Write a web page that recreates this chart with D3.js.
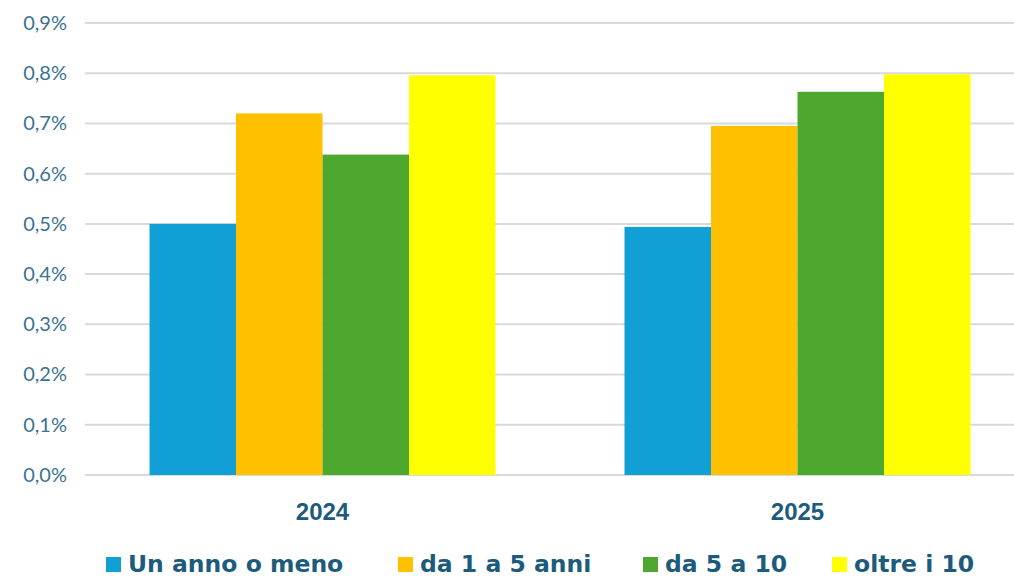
<!DOCTYPE html>
<html><head><meta charset="utf-8">
<script src="https://cdn.jsdelivr.net/npm/d3@7"></script>
<style>body{margin:0;background:#fff}svg{display:block}</style>
</head><body>
<svg id="c" width="1014" height="577"></svg>
<script>
const categories = ["2024", "2025"];
const series = ["Un anno o meno", "da 1 a 5 anni", "da 5 a 10", "oltre i 10"];
const colors = ["#119fd6", "#ffc000", "#4ea72e", "#ffff00"];
const values2024 = [0.500, 0.720, 0.638, 0.796];
const values2025 = [0.494, 0.695, 0.763, 0.798];
const yTicks = [0, 0.1, 0.2, 0.3, 0.4, 0.5, 0.6, 0.7, 0.8, 0.9];

const svg = d3.select("#c");
const plotL = 85, plotR = 1035, plotT = 23, plotB = 475;
const y = d3.scaleLinear().domain([0, 0.9]).range([plotB, plotT]);
const x0 = d3.scaleBand().domain(categories).range([plotL, plotR]).paddingInner(0.2716).paddingOuter(0.1358);
const x1 = d3.scaleBand().domain(series).range([0, x0.bandwidth()]).padding(0);

// grid
svg.append("g").selectAll("line").data(yTicks).join("line")
  .attr("x1", plotL).attr("x2", plotR)
  .attr("y1", d => y(d)).attr("y2", d => y(d))
  .attr("stroke", "#d9d9d9").attr("stroke-width", 2);

// y labels
const yAxis = d3.axisLeft(y).tickValues(yTicks).tickSize(0).tickPadding(0)
  .tickFormat(d => d3.format(".1f")(d).replace(".", ",") + "%");
const ya = svg.append("g").attr("transform", "translate(67,0)").call(yAxis);
ya.select(".domain").remove();
ya.selectAll("text").attr("font-family", "Lato, sans-serif").attr("font-size", 20)
  .attr("fill", "#3b7292");

// bars
const data = categories.map((c, i) => ({cat: c, vals: [values2024, values2025][i]}));
const g = svg.append("g").selectAll("g").data(data).join("g")
  .attr("transform", d => `translate(${x0(d.cat)},0)`);
g.selectAll("rect").data(d => d.vals.map((v, j) => ({s: series[j], v, c: colors[j]})))
  .join("rect")
  .attr("x", d => x1(d.s)).attr("width", x1.bandwidth())
  .attr("y", d => y(d.v)).attr("height", d => y(0) - y(d.v))
  .attr("fill", d => d.c);

// x labels
const xAxis = d3.axisBottom(x0).tickSize(0).tickPadding(0);
const xa = svg.append("g").attr("transform", `translate(0,${plotB + 27})`).call(xAxis);
xa.select(".domain").remove();
xa.selectAll("text").attr("dy", "0.75em").attr("font-family", "'Liberation Sans', Arial, sans-serif")
  .attr("font-size", 24).attr("font-weight", "bold").attr("fill", "#1d5b7c");

// legend
const legX = [106, 398, 643, 832];
const leg = svg.append("g").selectAll("g").data(series).join("g")
  .attr("transform", (d, i) => `translate(${legX[i]},557)`);
leg.append("rect").attr("width", 15).attr("height", 15).attr("fill", (d, i) => colors[i]);
leg.append("text").attr("x", 22).attr("y", 15)
  .attr("font-family", "'DejaVu Sans', sans-serif").attr("font-size", 23.5)
  .attr("font-weight", "bold").attr("fill", "#1d5b7c").text(d => d);
</script>
</body></html>
